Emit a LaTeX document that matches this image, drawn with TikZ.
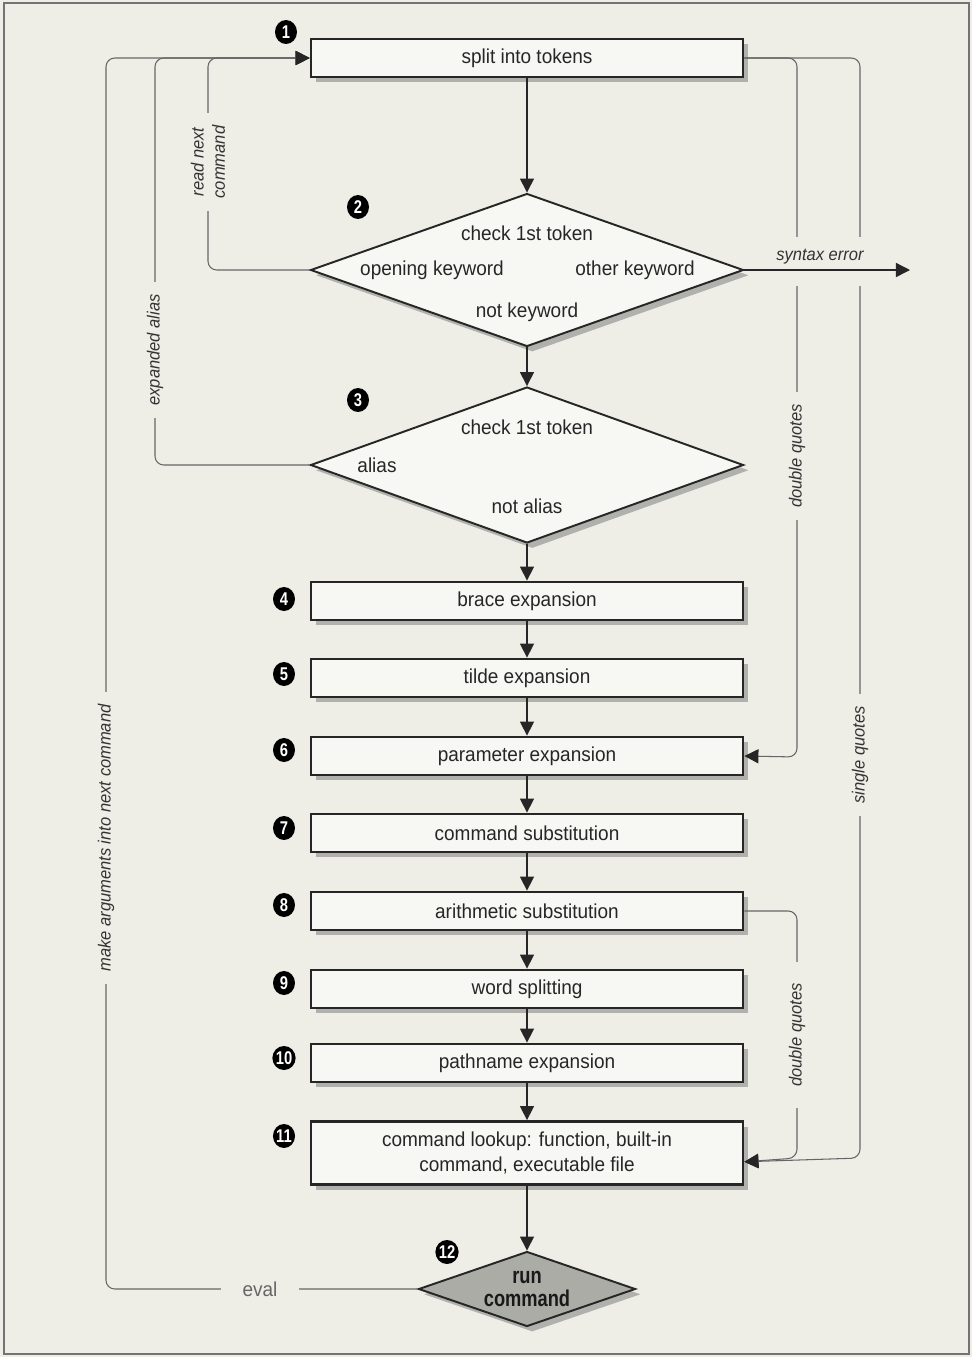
\documentclass[tikz,border=0pt]{standalone}
\usepackage{fontspec}
\setmainfont{Liberation Sans}[FakeStretch=0.94]
\newfontfamily\narrowfont{Liberation Sans}[FakeStretch=0.8]
\usetikzlibrary{shapes.geometric,arrows.meta,shadows}

\definecolor{paper}{RGB}{238,238,231}
\definecolor{boxfill}{RGB}{247,247,243}
\definecolor{runfill}{RGB}{172,172,167}

\tikzset{
  shade/.style={drop shadow={shadow xshift=3pt, shadow yshift=-3pt, fill=black!60, opacity=0.45}},
  stepbox/.style={draw=black!85, line width=1.6pt, fill=boxfill, minimum width=8.64cm,
    minimum height=0.76cm, inner sep=0pt, text=black!85, font=\fontsize{11.5}{14}\selectfont, shade},
  test/.style={diamond, draw=black!85, line width=1.1pt, fill=boxfill, inner sep=0pt, shade},
  txt/.style={text=black!85, font=\fontsize{11.5}{14}\selectfont},
  badge/.style={ellipse, fill=black, text=white, inner sep=0pt, minimum width=0.44cm,
    minimum height=0.48cm, font=\narrowfont\bfseries\fontsize{10.5}{10.5}\selectfont},
  flow/.style={draw=black!85, line width=0.8pt, -{Triangle[length=8pt,width=8pt]}},
  back/.style={draw=black!60, line width=0.6pt, rounded corners=5pt,
    -{Triangle[length=8pt,width=8pt,color=black!85]}},
  tag/.style={text=black!80, fill=paper, inner xsep=7pt, inner ysep=0pt,
    font=\itshape\fontsize{10}{12}\selectfont}
}

\begin{document}
\begin{tikzpicture}[x=0.02cm, y=-0.02cm]
  \useasboundingbox (0,0) rectangle (972,1357);
  \fill[paper] (0,0) rectangle (972,1357);
  \draw[black!55, line width=0.8pt] (4,3) rectangle (969,1354);

  % steps
  \node[stepbox] (split) at (527,58) {split into tokens};
  \node[test, minimum width=8.66cm, minimum height=3.06cm] (kw) at (527,270) {};
  \node[test, minimum width=8.66cm, minimum height=3.12cm] (al) at (527,465) {};
  \node[stepbox] (brace) at (527,601) {brace expansion};
  \node[stepbox] (tilde) at (527,678) {tilde expansion};
  \node[stepbox] (param) at (527,756) {parameter expansion};
  \node[stepbox] (cmdsub) at (527,833) {command substitution};
  \node[stepbox] (arith) at (527,911) {arithmetic substitution};
  \node[stepbox] (words) at (527,989) {word splitting};
  \node[stepbox] (path) at (527,1063) {pathname expansion};
  \node[stepbox, minimum height=1.26cm, align=center] (lookup) at (527,1153)
    {command lookup: function, built-in\\command, executable file};
  \node[test, fill=runfill, minimum width=4.34cm, minimum height=1.5cm] (run) at (527,1289) {};
  \node[align=center, text=black!90, font=\narrowfont\bfseries\fontsize{13}{13.5}\selectfont]
    (runtxt) at (run) {run\\command};

  % text in the tests
  \node[txt] (kwq) at (527,233) {check 1st token};
  \node[txt] (kwopen) at (432,270) {opening keyword};
  \node[txt] (kwother) at (635,270) {other keyword};
  \node[txt] (kwnot) at (527,312) {not keyword};
  \node[txt] (alq) at (527,427) {check 1st token};
  \node[txt] (alyes) at (377,465) {alias};
  \node[txt] (alno) at (527,506) {not alias};

  % numbers
  \foreach \n/\x/\y in {1/286/32, 2/358/207, 3/358/400, 4/284/599, 5/284/674, 6/284/750,
      7/284/828, 8/284/905, 9/284/983, 10/284/1058, 11/284/1136, 12/447/1252}
    \node[badge] (b\n) at (\x,\y) {\n};

  % main flow
  \foreach \a/\b in {split/kw, kw/al, al/brace, brace/tilde, tilde/param, param/cmdsub,
      cmdsub/arith, arith/words, words/path, path/lookup, lookup/run}
    \draw[flow] (\a.south) -- (\b.north);

  % loops back to the start
  \draw[back] (kw.west) -| (208,58) -- (split.west);
  \draw[back] (al.west) -| (155,58) -- (split.west);
  \draw[back] (run.west) -| (106,58) -- (split.west);
  \node[tag, rotate=90, align=center] (lread) at (208,162) {read next\\command};
  \node[tag, rotate=90] (lalias) at (155,350) {expanded alias};
  \node[tag, rotate=90] (largs) at (106,838) {make arguments into next command};
  \node[tag, font=\fontsize{11.5}{14}\selectfont, text=black!60, inner xsep=12pt] (leval) at (260,1289) {eval};

  % quoting shortcuts
  \draw[back] (split.east) -| (797,757) -- (param.east);
  \draw[back] (split.east) -| (860,1158) -- ([yshift=-5]lookup.east);
  \draw[back] (arith.east) -| (797,1158) -- ([yshift=-5]lookup.east);
  \node[tag, rotate=90] (ldq) at (797,456) {double quotes};
  \node[tag, rotate=90] (lsq) at (860,755) {single quotes};
  \node[tag, rotate=90, inner xsep=12pt] (ldq2) at (797,1035) {double quotes};

  % syntax error
  \coordinate (err) at (910,270);
  \fill[paper] (785,237) rectangle (875,286);
  \draw[flow] (kw.east) -- (err);
  \node[tag, fill=none, inner xsep=0pt] (lerr) at (820,257) {syntax error};
\end{tikzpicture}
\end{document}
